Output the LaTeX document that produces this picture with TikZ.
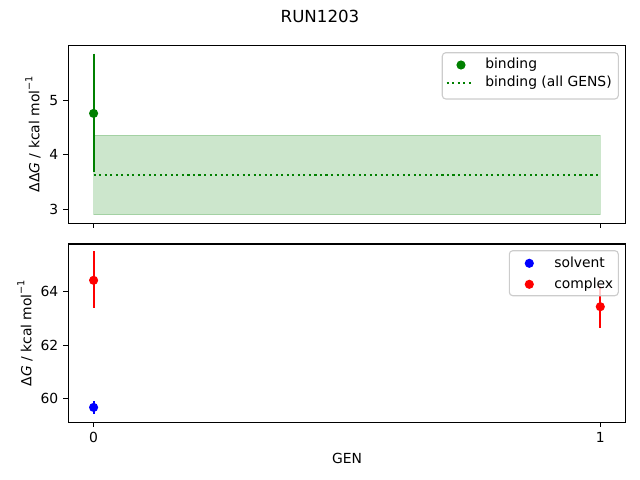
\documentclass[tikz,border=0pt]{standalone}
\usepackage{fontspec}
\setmainfont{DejaVu Sans}
\definecolor{mgreen}{rgb}{0,0.5,0}
\definecolor{mred}{rgb}{1,0,0}
\definecolor{mblue}{rgb}{0,0,1}
\definecolor{legedge}{gray}{0.8}
\begin{document}
\begin{tikzpicture}[x=0.72pt,y=-0.72pt,
  axisline/.style={line width=0.8pt,black},
  tickmark/.style={line width=0.8pt,black},
  ticklab/.style={font=\fontsize{10}{12}\selectfont,inner sep=0pt},
  errbar/.style={line width=1.5pt},
  dotpt/.style={circle,inner sep=0pt,minimum size=6.6pt},
  legbox/.style={draw=legedge,line width=0.8pt,fill=white,fill opacity=0.8,rounded corners=2.5pt},
  legtext/.style={font=\fontsize{10}{12}\selectfont,inner sep=0pt,anchor=base west},
  ylab/.style={font=\fontsize{10}{12}\selectfont,inner sep=0pt,rotate=90}]
\useasboundingbox (0,0) rectangle (640,480);
% title
\node[font=\fontsize{12}{14}\selectfont,inner sep=0pt] (title) at (320,16.3) {RUN1203};
%% ---------- top axes ----------
\fill[mgreen,opacity=0.2] (93.6,135.2) rectangle (600.3,214.8);
\draw[mgreen,opacity=0.2,line width=1pt] (93.6,135.2) rectangle (600.3,214.8);
\draw[mgreen,line width=1.5pt,dash pattern=on 1.5pt off 2.475pt] (93.6,175.0) -- (600.3,175.0);
\draw[errbar,mgreen] (93.6,53.5) -- (93.6,172.2);
\node[dotpt,fill=mgreen] (g0) at (93.6,113.4) {};
\draw[axisline] (68.3,45.1) rectangle (625.7,223.2);
\foreach \yy/\lab in {209.3/3,154.8/4,100.3/5}{
  \draw[tickmark] (68.3,\yy) -- ++(-3.5pt,0);
  \node[ticklab,anchor=east] at (58.6,\yy) {\lab};
}
\foreach \xx in {93.6,600.3}{
  \draw[tickmark] (\xx,223.2) -- ++(0,-3.5pt);
}
\node[ylab] (ylabtop) at (33,134.2) {ΔΔ\textit{G} / kcal mol\raisebox{0.9ex}{\fontsize{7}{8}\selectfont −1}};
% top legend
\draw[legbox] (442.3,52.7) rectangle (618.3,99.0);
\node[dotpt,fill=mgreen] (lg1) at (461,65) {};
\node[legtext] (lt1) at (485,68.5) {binding};
\coordinate (ld1) at (446.7,83.3);
\coordinate (ld2) at (471.7,83.3);
\draw[mgreen,line width=1.5pt,dash pattern=on 1.5pt off 2.475pt] (ld1) -- (ld2);
\node[legtext] (lt2) at (485,86.8) {binding (all GENS)};
%% ---------- bottom axes ----------
\draw[errbar,mred] (93.6,251.1) -- (93.6,307.6);
\node[dotpt,fill=mred] (r0) at (93.6,280.3) {};
\draw[errbar,mblue] (93.6,401.0) -- (93.6,413.8);
\node[dotpt,fill=mblue] (b0) at (93.6,407.4) {};
\draw[errbar,mred] (600.3,285.7) -- (600.3,327.7);
\node[dotpt,fill=mred] (r1) at (600.3,306.7) {};
\draw[axisline] (68.3,244.0) rectangle (625.7,422.2);
\foreach \yy/\lab in {398.8/60,345.3/62,291.8/64}{
  \draw[tickmark] (68.3,\yy) -- ++(-3.5pt,0);
  \node[ticklab,anchor=east] at (58.6,\yy) {\lab};
}
\foreach \xx/\lab in {93.6/0,600.3/1}{
  \draw[tickmark] (\xx,422.2) -- ++(0,-3.5pt);
  \node[ticklab,anchor=north] at (\xx,431.9) {\lab};
}
\node[ylab] (ylabbot) at (25,333.1) {Δ\textit{G} / kcal mol\raisebox{0.9ex}{\fontsize{7}{8}\selectfont −1}};
\node[font=\fontsize{10}{12}\selectfont,inner sep=0pt] (xlab) at (347,458.3) {GEN};
% bottom legend
\draw[legbox] (509.3,250.7) rectangle (618.3,295.7);
\node[dotpt,fill=mblue] (lg2) at (529.3,263.3) {};
\node[legtext] (lt3) at (554,267.3) {solvent};
\node[dotpt,fill=mred] (lg3) at (529.3,284.3) {};
\node[legtext] (lt4) at (554,288.3) {complex};
\end{tikzpicture}
\end{document}
